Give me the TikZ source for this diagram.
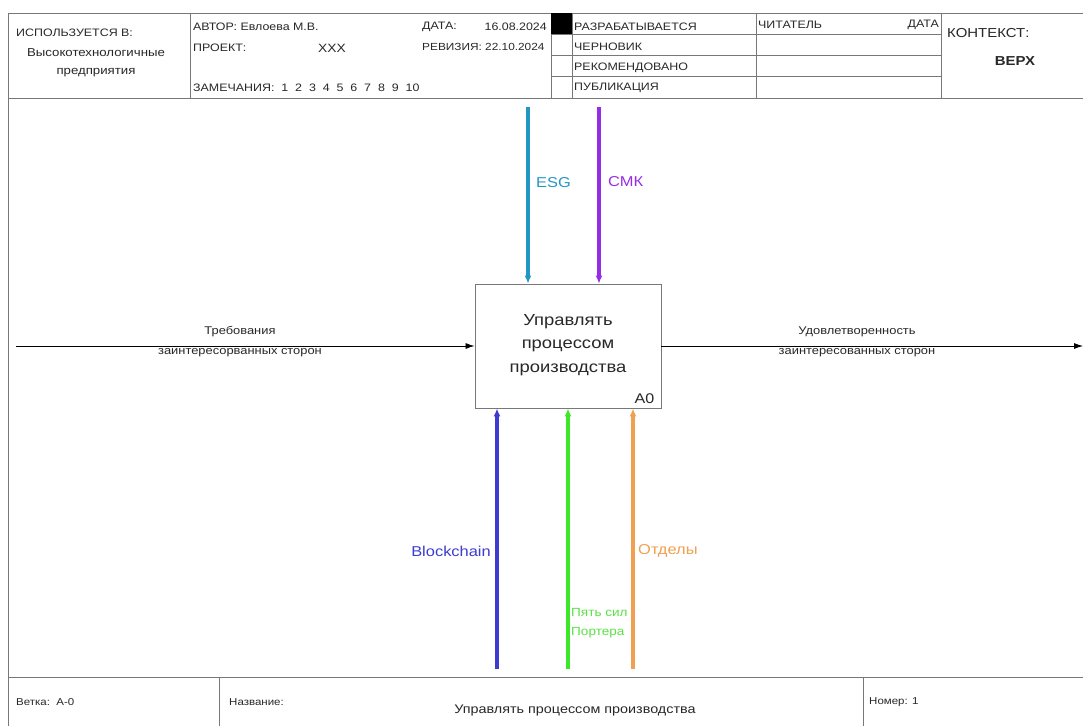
\documentclass[tikz,border=0pt]{standalone}
\usepackage{fontspec}
\setmainfont{Liberation Sans}[FakeStretch=1.15]
\usetikzlibrary{arrows.meta}
\definecolor{framegray}{RGB}{120,120,120}
\definecolor{esgcol}{RGB}{35,150,195}
\definecolor{smkcol}{RGB}{150,45,230}
\definecolor{blockcol}{RGB}{60,60,210}
\definecolor{portcol}{RGB}{60,230,40}
\definecolor{portlbl}{RGB}{90,225,70}
\definecolor{depcol}{RGB}{240,160,80}
\definecolor{textgray}{RGB}{40,40,40}
\begin{document}
\begin{tikzpicture}[x=1pt,y=-1pt,
  frameline/.style={draw=framegray,line width=0.9pt},
  hdr/.style={inner sep=0pt,font=\fontsize{10.8}{12}\selectfont,text=textgray},
  ftr/.style={inner sep=0pt,font=\fontsize{10}{12}\selectfont,text=textgray},
  flow/.style={line width=0.8pt,-{Latex[length=9pt,width=6pt]}},
  mech/.style={line width=3.1pt,-{Latex[length=8pt,width=7pt]}},
  lbl/.style={inner sep=0pt,font=\fontsize{14.3}{16}\selectfont},
  flowlbl/.style={inner sep=0pt,font=\fontsize{11.2}{20}\selectfont,text=textgray,align=center}]
\useasboundingbox (0,0) rectangle (1083,726);
\fill[white] (0,0) rectangle (1083,726);

% outer frame and header / footer rules
\draw[frameline] (8,726) -- (8,13) -- (1083,13);
\draw[frameline] (8,98) -- (1083,98);
\draw[frameline] (190,13) -- (190,98);
\draw[frameline] (551,13) -- (551,98);
\draw[frameline] (572,13) -- (572,98);
\draw[frameline] (756,13) -- (756,98);
\draw[frameline] (941,13) -- (941,98);
\foreach \yy in {34,55,76} \draw[frameline] (551,\yy) -- (941,\yy);
\fill[black] (551,13) rectangle (572,34);
\draw[frameline] (8,677) -- (1083,677);
\draw[frameline] (219,677) -- (219,726);
\draw[frameline] (863,677) -- (863,726);

% header texts
\node[hdr,anchor=west] (used) at (16,33) {ИСПОЛЬЗУЕТСЯ В:};
\node[hdr,align=center,font=\fontsize{11.5}{18}\selectfont] (usedval) at (96,63) {Высокотехнологичные\\предприятия};
\node[hdr,anchor=west] (author) at (193,27) {АВТОР: Евлоева М.В.};
\node[hdr,anchor=west] (project) at (193,48) {ПРОЕКТ:};
\node[hdr,font=\fontsize{12}{14}\selectfont] (projval) at (332,48) {XXX};
\node[hdr,anchor=west] (notes) at (193,88) {ЗАМЕЧАНИЯ:\ \ 1\ \ 2\ \ 3\ \ 4\ \ 5\ \ 6\ \ 7\ \ 8\ \ 9\ \ 10};
\node[hdr,anchor=west] (datelbl) at (422,27) {ДАТА:};
\node[hdr,anchor=east] (dateval) at (547,27) {16.08.2024};
\node[hdr,anchor=west,font=\fontsize{10.3}{12}\selectfont] (revlbl) at (422,47) {РЕВИЗИЯ: 22.10.2024};
\node[hdr,anchor=west] (st1) at (574,27) {РАЗРАБАТЫВАЕТСЯ};
\node[hdr,anchor=west] (st2) at (574,47) {ЧЕРНОВИК};
\node[hdr,anchor=west] (st3) at (574,68) {РЕКОМЕНДОВАНО};
\node[hdr,anchor=west] (st4) at (574,88) {ПУБЛИКАЦИЯ};
\node[hdr,anchor=west] (reader) at (758,25) {ЧИТАТЕЛЬ};
\node[hdr,anchor=east] (readdate) at (939,25) {ДАТА};
\node[hdr,anchor=west,font=\fontsize{13}{15}\selectfont] (ctx) at (947,33) {КОНТЕКСТ:};
\node[hdr,font=\fontsize{13}{15}\selectfont\bfseries] (ctxval) at (1015,61) {ВЕРХ};

% footer texts
\node[ftr,anchor=west] (branch) at (16,702) {Ветка:\ \ A-0};
\node[ftr,anchor=west] (titlelbl) at (229,702) {Название:};
\node[ftr,font=\fontsize{12.5}{14}\selectfont] (titleval) at (575,710) {Управлять процессом производства};
\node[ftr,anchor=west] (number) at (869,702) {Номер: 1};

% function block
\node[draw=framegray,line width=0.9pt,minimum width=186pt,minimum height=124pt,inner sep=0pt] (box) at (568,346) {};
\node[align=center,font=\fontsize{16}{23.5}\selectfont,text=textgray,inner sep=0pt] (boxtxt) at (568,345) {Управлять\\процессом\\производства};
\node[anchor=south east,font=\fontsize{14}{16}\selectfont,text=textgray,inner sep=0pt] (boxnum) at ([xshift=-7pt,yshift=5pt]box.south east) {A0};

% input and output
\coordinate (inStart) at (16,346);
\coordinate (outEnd) at (1083,346);
\draw[flow] (inStart) -- (box.west);
\draw[flow] (box.east) -- (outEnd);
\node[flowlbl] (inlbl) at (240,342) {Требования\\заинтересорванных сторон};
\node[flowlbl] (outlbl) at (857,342) {Удовлетворенность\\заинтересованных сторон};

% controls
\coordinate (esgTop) at (528,107);
\coordinate (smkTop) at (599,107);
\draw[mech,esgcol] (esgTop) -- (esgTop |- box.north);
\draw[mech,smkcol] (smkTop) -- (smkTop |- box.north);
\node[lbl,text=esgcol,anchor=west] (esglbl) at (536,183) {ESG};
\node[lbl,text=smkcol,anchor=west] (smklbl) at (608,182) {СМК};

% mechanisms
\coordinate (blockBot) at (497,669);
\coordinate (portBot) at (568,669);
\coordinate (depBot) at (633,669);
\draw[mech,blockcol] (blockBot) -- (blockBot |- box.south);
\draw[mech,portcol] (portBot) -- (portBot |- box.south);
\draw[mech,depcol] (depBot) -- (depBot |- box.south);
\node[lbl,text=blockcol,anchor=east] (blocklbl) at (491,551) {Blockchain};
\node[lbl,text=depcol,anchor=west] (deplbl) at (638,551) {Отделы};
\node[inner sep=0pt,font=\fontsize{11.8}{19.5}\selectfont,text=portlbl,align=left,anchor=west] (portlbl) at (571,623) {Пять сил\\Портера};
\end{tikzpicture}
\end{document}
